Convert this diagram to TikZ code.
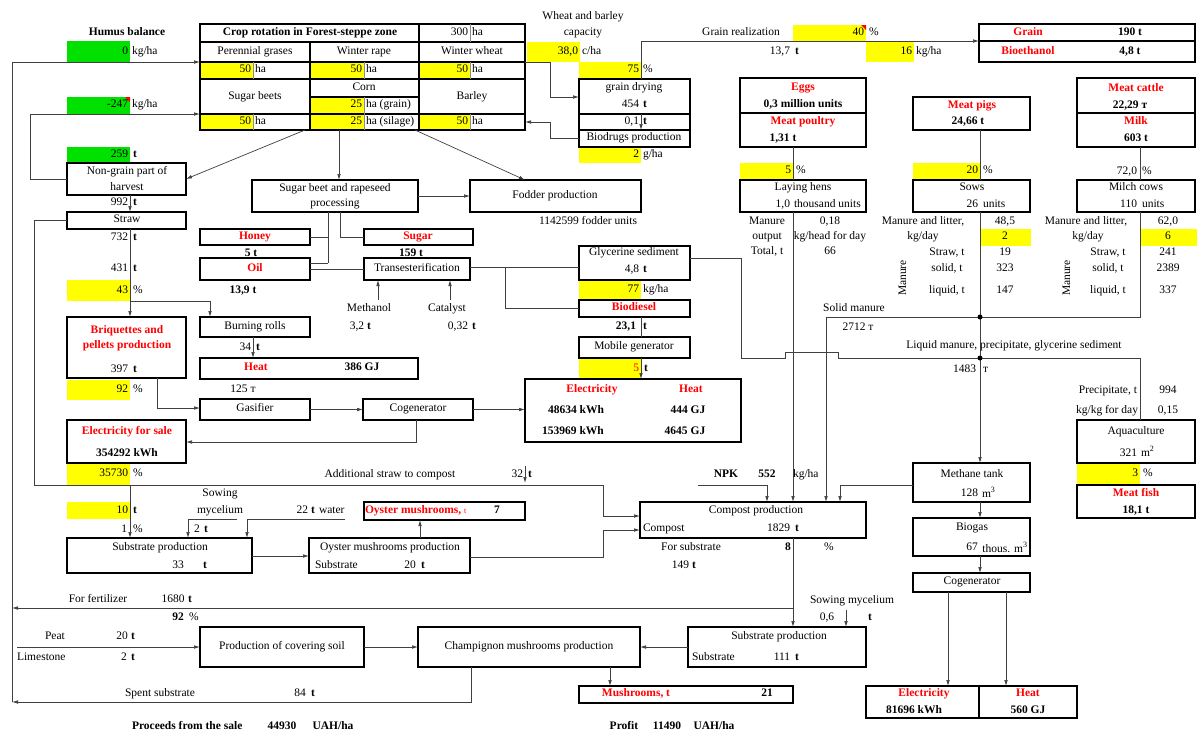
\documentclass[tikz,border=0pt]{standalone}
\usepackage{fontspec}
\setmainfont{Liberation Serif}
\usetikzlibrary{arrows.meta}
\definecolor{yel}{RGB}{255,255,0}
\definecolor{grn}{RGB}{0,225,0}
\newcommand\fs{\fontsize{11.5}{13}\selectfont}
\newcommand\Bx[6][]{\node[bxs,#1,minimum width={#5-#3},minimum height={#6-#4}] (#2) at ({(#3+#5)/2},{(#4+#6)/2}) {};}
\newcommand\Tx[5][]{\node[lb,#1] (#2) at (#3,#4) {#5};}
\begin{document}
\begin{tikzpicture}[x=1pt,y=-1pt,
 bxs/.style={draw=black,line width=1.3pt,inner sep=0,outer sep=0,rectangle},
 yc/.style={draw=none,fill=yel},
 gc/.style={draw=none,fill=grn},
 lb/.style={inner sep=0,outer sep=0,font=\fs,text height=7pt,text depth=3pt},
 bl/.style={font=\fs\bfseries},
 rd/.style={font=\fs\bfseries,text=red},
 cn/.style={draw=black!75,line width=0.7pt},
 ar/.style={cn,-{Latex[length=6pt,width=3.6pt]}},
 thn/.style={draw=black!45,line width=0.5pt},
 grd/.style={draw=black,line width=1.3pt},
 dotst/.style={circle,fill=black,inner sep=0,minimum size=5pt}
]
\useasboundingbox (0,0) rectangle (1197,734);
\fill[white] (0,0) rectangle (1197,734);
% ---------- fills
\Bx[gc]{g1}{67}{41}{130}{62}
\Bx[gc]{g2}{67}{97}{130}{114}
\Bx[gc]{g3}{67}{147}{130}{163}
\Bx[yc]{y1}{201}{62}{253}{79}
\Bx[yc]{y2}{310}{62}{364}{79}
\Bx[yc]{y3}{419}{62}{470}{79}
\Bx[yc]{y4}{310}{97}{364}{114}
\Bx[yc]{y5}{201}{114}{253}{130}
\Bx[yc]{y6}{310}{114}{364}{130}
\Bx[yc]{y7}{419}{114}{470}{130}
\Bx[yc]{y8}{527}{42}{580}{62}
\Bx[yc]{y9}{579}{62}{641}{79}
\Bx[yc]{y10}{579}{147}{641}{163}
\Bx[yc]{y11}{793}{25}{866}{41}
\Bx[yc]{y12}{866}{41}{914}{62}
\Bx[yc]{y13}{740}{163}{793}{180}
\Bx[yc]{y14}{913}{163}{980}{180}
\Bx[yc]{y15}{980}{229}{1031}{246}
\Bx[yc]{y16}{1140}{229}{1197}{246}
\Bx[yc]{y17}{67}{280}{130}{301}
\Bx[yc]{y18}{67}{380}{130}{400}
\Bx[yc]{y19}{67}{464}{130}{485}
\Bx[yc]{y20}{67}{502}{130}{519}
\Bx[yc]{y21}{579}{280}{641}{300}
\Bx[yc]{y22}{579}{358}{641}{379}
\Bx[yc]{y23}{1077}{464}{1140}{484}
\fill[red] (125,97) -- (130,97) -- (130,102) -- cycle;
\fill[red] (861,25) -- (866,25) -- (866,30) -- cycle;
% ---------- table
\Bx{tab}{200}{24}{525}{130}
\draw[grd] (200,42)--(525,42) (200,62)--(525,62) (200,79)--(525,79) (200,114)--(525,114) (310,97)--(419,97) (310,42)--(310,130) (419,24)--(419,130);
\draw[thn] (470,24)--(470,42) (253,62)--(253,79) (364,62)--(364,79) (470,62)--(470,79) (364,97)--(364,114) (253,114)--(253,130) (364,114)--(364,130) (470,114)--(470,130);
\Tx[bl]{t1}{310}{33}{Crop rotation in Forest-steppe zone}
\Tx[anchor=east]{t2}{468}{33}{300}
\Tx[anchor=west]{t3}{472}{33}{ha}
\Tx{t4}{255}{52}{Perennial grases}
\Tx{t5}{364}{52}{Winter rape}
\Tx{t6}{472}{52}{Winter wheat}
\Tx[anchor=east]{t7}{251}{70}{50}
\Tx[anchor=west]{t8}{255}{70}{ha}
\Tx[anchor=east]{t9}{362}{70}{50}
\Tx[anchor=west]{t10}{366}{70}{ha}
\Tx[anchor=east]{t11}{468}{70}{50}
\Tx[anchor=west]{t12}{472}{70}{ha}
\Tx{t13}{255}{97}{Sugar beets}
\Tx{t14}{364}{88}{Corn}
\Tx[anchor=east]{t15}{362}{105}{25}
\Tx[anchor=west]{t16}{366}{105}{ha (grain)}
\Tx{t17}{472}{97}{Barley}
\Tx[anchor=east]{t18}{251}{122}{50}
\Tx[anchor=west]{t19}{255}{122}{ha}
\Tx[anchor=east]{t20}{362}{122}{25}
\Tx[anchor=west]{t21}{366}{122}{ha (silage)}
\Tx[anchor=east]{t22}{468}{122}{50}
\Tx[anchor=west]{t23}{472}{122}{ha}
% ---------- boxes
\Bx{gd}{579}{79}{690}{114}
\Bx{gd2}{579}{114}{690}{130}
\Bx{bio}{579}{130}{690}{147}
\Bx{gr1}{979}{24}{1195}{41}
\Bx{gr2}{979}{41}{1195}{62}
\Bx{eg}{740}{78}{866}{113}
\Bx{pp}{740}{113}{866}{147}
\Bx{lh}{740}{180}{866}{212}
\Bx{mp}{913}{97}{1030}{130}
\Bx{sows}{913}{180}{1030}{212}
\Bx{cat}{1077}{78}{1195}{113}
\Bx{milk}{1077}{113}{1195}{147}
\Bx{cows}{1077}{180}{1195}{212}
\Bx{aq}{1077}{420}{1195}{463}
\Bx{fish}{1077}{485}{1195}{518}
\Bx{mt}{913}{463}{1030}{502}
\Bx{bg}{913}{518}{1030}{556}
\Bx{cg2}{913}{573}{1030}{592}
\Bx{el2}{866}{686}{979}{718}
\Bx{ht2}{979}{686}{1077}{718}
\Bx{cp}{640}{502}{866}{538}
\Bx{sp2}{688}{627}{866}{667}
\Bx{ch}{418}{627}{640}{667}
\Bx{mush}{579}{686}{793}{703}
\Bx{pcs}{200}{627}{364}{667}
\Bx{sp}{67}{538}{252}{573}
\Bx{oy}{309}{538}{470}{573}
\Bx{om}{364}{502}{525}{520}
\Bx{efs}{67}{420}{186}{463}
\Bx{gas}{200}{399}{310}{420}
\Bx{cog}{363}{399}{473}{420}
\Bx{eh}{525}{379}{741}{442}
\Bx{heat}{200}{358}{418}{379}
\Bx{br}{200}{317}{310}{337}
\Bx{brq}{67}{317}{186}{378}
\Bx{oil}{200}{258}{310}{280}
\Bx{honey}{200}{229}{310}{245}
\Bx{sugar}{364}{229}{473}{245}
\Bx{tr}{364}{258}{470}{280}
\Bx{gly}{579}{246}{690}{280}
\Bx{bd}{579}{300}{690}{317}
\Bx{mg}{579}{337}{690}{358}
\Bx{proc}{252}{180}{418}{212}
\Bx{fod}{470}{180}{641}{212}
\Bx{ng}{67}{163}{186}{195}
\Bx{straw}{67}{212}{186}{229}
% ---------- connectors
\coordinate (L0) at (12,702);
\draw[ar] (L0) -- (12,62) -- (tab.west |- 0,62);
\draw[ar] (ng.west) -- (30,0 |- ng.west) -- (30,114) -- (tab.west |- 0,114);
\draw[ar] (305,0 |- tab.south) -- (ng.east);
\draw[ar] (339,0 |- tab.south) -- (339,0 |- proc.north);
\draw[ar] (415,0 |- tab.south) -- (525,0 |- fod.north);
\draw[ar] (tab.east |- 0,62) -- (550,62) -- (550,97) -- (gd.west |- 0,97);
\draw[ar] (bio.west) -- (550,0 |- bio.west) -- (550,122) -- (tab.east |- 0,122);
\draw[ar] (641,0 |- gd.north) -- (641,41) -- (gr1.south west);
\draw[ar] (641,0 |- gd.south) -- (641,0 |- gd2.south);
\draw[ar] (130,0 |- ng.south) -- (130,0 |- straw.north);
\draw[ar] (130,0 |- straw.south) -- (130,0 |- brq.north);
\draw[ar] (130,0 |- y17.south) -- (210,0 |- y17.south) -- (210,0 |- br.north);
\draw[ar] (157,0 |- brq.south) -- (157,408) -- (gas.west |- 0,408);
\draw[ar] (253,0 |- br.south) -- (253,0 |- heat.north);
\draw[ar] (gas.east) -- (cog.west);
\draw[ar] (cog.east) -- (eh.west |- cog.east);
\draw[ar] (416,0 |- cog.south) -- (416,442) -- (efs.east |- 0,442);
\draw[ar] (straw.west) -- (34,0 |- straw.west) -- (34,485) -- (603,485) -- (603,516) -- (cp.west |- 0,516);
\draw[ar] (130,485) -- (130,0 |- sp.north);
\draw[ar] (237,519) -- (188,519) -- (188,0 |- sp.north);
\draw[ar] (345,519) -- (247,519) -- (247,0 |- sp.north);
\draw[ar] (sp.east |- 0,556) -- (oy.west |- 0,556);
\draw[ar] (420,0 |- oy.north) -- (420,0 |- om.south);
\draw[ar] (oy.east |- 0,557) -- (603,557) -- (603,530) -- (cp.west |- 0,530);
\draw[ar] (525,466) -- (525,483);
\draw[ar] (698,485) -- (767,485) -- (767,0 |- cp.north);
\draw[cn] (793,0 |- pp.south) -- (793,0 |- lh.north);
\draw[ar] (793,0 |- lh.south) -- (793,0 |- cp.north);
\draw[cn] (1140,0 |- cows.south) -- (1140,317) -- (826,317);
\draw[ar] (826,317) -- (826,0 |- cp.north);
\draw[ar] (mt.west |- 0,485) -- (840,485) -- (840,0 |- cp.north);
\draw[cn] (980,0 |- mp.south) -- (980,0 |- sows.north);
\draw[ar] (980,0 |- sows.south) -- (980,0 |- mt.north);
\draw[cn] (1140,0 |- milk.south) -- (1140,0 |- cows.north);
\draw[cn] (gly.east |- 0,258) -- (741,258) -- (741,358) -- (785,358) -- (785,352) -- (838,352) -- (838,358) -- (1140,358) -- (1140,0 |- aq.north);
\node[dotst] (dt1) at (980,317) {};
\node[dotst] (dt2) at (980,358) {};
\draw[ar] (980,0 |- mt.south) -- (980,0 |- bg.north);
\draw[ar] (980,0 |- bg.south) -- (980,0 |- cg2.north);
\draw[ar] (948,0 |- cg2.south) -- (948,0 |- el2.north);
\draw[ar] (1006,0 |- cg2.south) -- (1006,0 |- ht2.north);
\draw[ar] (793,0 |- cp.south) -- (793,0 |- sp2.north);
\draw[ar] (793,608) -- (12,608);
\draw[ar] (846,610) -- (846,0 |- sp2.north);
\draw[ar] (sp2.west) -- (ch.east);
\draw[ar] (pcs.east) -- (ch.west);
\draw[ar] (17,647) -- (pcs.west);
\draw[ar] (610,0 |- ch.south) -- (610,0 |- mush.north);
\draw[ar] (471,0 |- ch.south) -- (471,702) -- (L0);
\draw[ar] (proc.east) -- (fod.west);
\draw[cn] (328,0 |- proc.south) -- (328,263);
\draw[cn] (honey.east) -- (328,0 |- honey.east);
\draw[cn] (oil.east |- 0,263) -- (328,263);
\draw[cn] (oil.east) -- (tr.west);
\draw[cn] (340,0 |- proc.south) -- (340,0 |- sugar.west) -- (sugar.west);
\draw[ar] (378,300) -- (378,0 |- tr.south);
\draw[ar] (450,300) -- (450,0 |- tr.south);
\draw[cn] (tr.east |- 0,267) -- (gly.west |- 0,267);
\draw[cn] (505,267) -- (505,308) -- (bd.west |- 0,308);
\draw[cn] (641,0 |- bd.south) -- (641,0 |- mg.north);
\draw[ar] (641,0 |- mg.south) -- (641,0 |- eh.north);
% ---------- left texts
\Tx[bl]{a1}{127}{33}{Humus balance}
\Tx[anchor=east]{a2}{128}{52}{0}
\Tx[anchor=west]{a3}{132}{52}{kg/ha}
\Tx[anchor=east]{a4}{128}{105}{-247}
\Tx[anchor=west]{a5}{132}{105}{kg/ha}
\Tx[anchor=east]{a6}{128}{155}{259}
\Tx[bl,anchor=west]{a7}{133}{155}{t}
\Tx{a8}{127}{172}{Non-grain part of}
\Tx{a9}{127}{188}{harvest}
\Tx[anchor=east]{a10}{128}{203}{992}
\Tx[bl,anchor=west]{a11}{133}{203}{t}
\Tx{a12}{127}{220}{Straw}
\Tx[anchor=east]{a13}{128}{238}{732}
\Tx[bl,anchor=west]{a14}{133}{238}{t}
\Tx[anchor=east]{a15}{128}{269}{431}
\Tx[bl,anchor=west]{a16}{133}{269}{t}
\Tx[anchor=east]{a17}{128}{291}{43}
\Tx[anchor=west]{a18}{133}{291}{\%}
\Tx[rd]{a19}{127}{331}{Briquettes and}
\Tx[rd]{a20}{127}{346}{pellets production}
\Tx[anchor=east]{a21}{128}{370}{397}
\Tx[bl,anchor=west]{a22}{133}{370}{t}
\Tx[anchor=east]{a23}{128}{390}{92}
\Tx[anchor=west]{a24}{133}{390}{\%}
\Tx[rd]{a25}{127}{432}{Electricity for sale}
\Tx[bl]{a26}{127}{454}{354292 kWh}
\Tx[anchor=east]{a27}{128}{474}{35730}
\Tx[anchor=west]{a28}{133}{474}{\%}
\Tx[anchor=east]{a29}{128}{511}{10}
\Tx[bl,anchor=west]{a30}{133}{511}{t}
\Tx[anchor=east]{a31}{127}{530}{1}
\Tx[anchor=west]{a32}{133}{530}{\%}
\Tx{a33}{220}{494}{Sowing}
\Tx{a34}{220}{511}{mycelium}
\Tx{a35}{197}{530}{2}
\Tx[bl]{a36}{206}{530}{t}
\Tx[anchor=east]{a37}{308}{511}{22}
\Tx[bl]{a38}{313}{511}{t}
\Tx[anchor=west]{a39}{319}{511}{water}
\Tx{a40}{160}{548}{Substrate production}
\Tx{a41}{178}{566}{33}
\Tx[bl]{a42}{205}{566}{t}
\Tx{a43}{98}{600}{For fertilizer}
\Tx{a44}{173}{600}{1680}
\Tx[bl]{a45}{190}{600}{t}
\Tx[bl]{a46}{178}{618}{92}
\Tx{a47}{194}{618}{\%}
\Tx{a48}{55}{637}{Peat}
\Tx{a49}{122}{637}{20}
\Tx[bl]{a50}{133}{637}{t}
\Tx[anchor=west]{a51}{17}{658}{Limestone}
\Tx{a52}{124}{658}{2}
\Tx[bl]{a53}{133}{658}{t}
\Tx{a54}{282}{647}{Production of covering soil}
\Tx{a55}{160}{694}{Spent substrate}
\Tx{a56}{300}{694}{84}
\Tx[bl]{a57}{313}{694}{t}
\Tx[bl,anchor=west]{a58}{132}{727}{Proceeds from the sale}
\Tx[bl]{a59}{282}{727}{44930}
\Tx[bl]{a60}{333}{727}{UAH/ha}
\Tx[bl]{a61}{624}{727}{Profit}
\Tx[bl]{a62}{667}{727}{11490}
\Tx[bl]{a63}{714}{727}{UAH/ha}
% ---------- middle-left texts
\Tx{b1}{335}{189}{Sugar beet and rapeseed}
\Tx{b2}{335}{204}{processing}
\Tx{b3}{555}{196}{Fodder production}
\Tx{b4}{588}{222}{1142599 fodder units}
\Tx[rd]{b5}{255}{237}{Honey}
\Tx[bl]{b6}{251}{254}{5 t}
\Tx[rd]{b7}{418}{237}{Sugar}
\Tx[bl]{b8}{411}{254}{159 t}
\Tx[rd]{b9}{255}{269}{Oil}
\Tx[bl]{b10}{243}{291}{13,9 t}
\Tx{b11}{417}{269}{Transesterification}
\Tx{b12}{369}{309}{Methanol}
\Tx{b13}{357}{327}{3,2}
\Tx[bl]{b14}{369}{327}{t}
\Tx{b15}{447}{309}{Catalyst}
\Tx{b16}{458}{327}{0,32}
\Tx[bl]{b17}{474}{327}{t}
\Tx{b18}{255}{327}{Burning rolls}
\Tx[anchor=east]{b19}{251}{348}{34}
\Tx[bl,anchor=west]{b20}{256}{348}{t}
\Tx[rd]{b21}{256}{368}{Heat}
\Tx[bl]{b22}{362}{368}{386 GJ}
\Tx{b23}{243}{390}{125 т}
\Tx{b24}{255}{409}{Gasifier}
\Tx{b25}{418}{409}{Cogenerator}
\Tx{b26}{390}{475}{Additional straw to compost}
\Tx[anchor=east]{b27}{523}{475}{32}
\Tx[bl,anchor=west]{b28}{528}{475}{t}
\Tx[rd,anchor=west]{b29}{365}{511}{Oyster mushrooms, {\mdseries\fontsize{8}{9}\selectfont t}}
\Tx[bl]{b30}{497}{511}{7}
\Tx{b31}{390}{548}{Oyster mushrooms production}
\Tx[anchor=west]{b32}{315}{566}{Substrate}
\Tx{b33}{410}{566}{20}
\Tx[bl]{b34}{423}{566}{t}
\Tx{b35}{529}{647}{Champignon mushrooms production}
\Tx[rd]{b36}{636}{694}{Mushrooms, t}
\Tx[bl]{b37}{767}{694}{21}
% ---------- top-middle texts
\Tx{c1}{583}{17}{Wheat and barley}
\Tx{c2}{583}{33}{capacity}
\Tx[anchor=east]{c3}{578}{52}{38,0}
\Tx[anchor=west]{c4}{582}{52}{c/ha}
\Tx[anchor=east]{c5}{639}{70}{75}
\Tx[anchor=west]{c6}{643}{70}{\%}
\Tx{c7}{634}{88}{grain drying}
\Tx[anchor=east]{c8}{639}{105}{454}
\Tx[bl,anchor=west]{c9}{643}{105}{t}
\Tx[anchor=east]{c10}{639}{122}{0,1}
\Tx[bl,anchor=west]{c11}{643}{122}{t}
\Tx{c12}{634}{138}{Biodrugs production}
\Tx[anchor=east]{c13}{639}{155}{2}
\Tx[anchor=west]{c14}{643}{155}{g/ha}
\Tx{c15}{741}{33}{Grain realization}
\Tx[anchor=east]{c16}{864}{33}{40}
\Tx[anchor=west]{c17}{869}{33}{\%}
\Tx[anchor=east]{c18}{790}{52}{13,7}
\Tx[bl,anchor=west]{c19}{795}{52}{t}
\Tx[anchor=east]{c20}{912}{52}{16}
\Tx[anchor=west]{c21}{916}{52}{kg/ha}
\Tx[rd]{c22}{1028}{33}{Grain}
\Tx[bl]{c23}{1130}{33}{190 t}
\Tx[rd]{c24}{1028}{52}{Bioethanol}
\Tx[bl]{c25}{1130}{52}{4,8 t}
\Tx{c26}{634}{253}{Glycerine sediment}
\Tx{c27}{632}{270}{4,8}
\Tx[bl]{c28}{645}{270}{t}
\Tx[anchor=east]{c29}{639}{290}{77}
\Tx[anchor=west]{c30}{643}{290}{kg/ha}
\Tx[rd]{c31}{634}{308}{Biodiesel}
\Tx[bl]{c32}{626}{327}{23,1}
\Tx[bl]{c33}{645}{327}{t}
\Tx{c34}{634}{347}{Mobile generator}
\Tx[anchor=east,text=red]{c35}{639}{369}{5}
\Tx[bl,anchor=west]{c36}{644}{369}{t}
\Tx[rd]{c37}{592}{390}{Electricity}
\Tx[rd]{c38}{691}{390}{Heat}
\Tx[bl]{c39}{576}{411}{48634 kWh}
\Tx[bl]{c40}{688}{411}{444 GJ}
\Tx[bl]{c41}{573}{432}{153969 kWh}
\Tx[bl]{c42}{685}{432}{4645 GJ}
% ---------- livestock texts
\Tx[rd]{d1}{803}{88}{Eggs}
\Tx[bl]{d2}{803}{105}{0,3 million units}
\Tx[rd]{d3}{803}{122}{Meat poultry}
\Tx[bl]{d4}{783}{139}{1,31 t}
\Tx[anchor=east]{d5}{791}{171}{5}
\Tx[anchor=west]{d6}{796}{171}{\%}
\Tx{d7}{803}{188}{Laying hens}
\Tx[anchor=east]{d8}{790}{205}{1,0}
\Tx[anchor=west]{d9}{794}{205}{thousand units}
\Tx{d10}{767}{222}{Manure}
\Tx{d11}{767}{237}{output}
\Tx{d12}{767}{252}{Total, t}
\Tx{d13}{830}{222}{0,18}
\Tx{d14}{830}{237}{kg/head for day}
\Tx{d15}{830}{252}{66}
\Tx[rd]{d16}{972}{106}{Meat pigs}
\Tx[bl]{d17}{968}{122}{24,66 t}
\Tx[anchor=east]{d18}{978}{171}{20}
\Tx[anchor=west]{d19}{983}{171}{\%}
\Tx{d20}{972}{188}{Sows}
\Tx[anchor=east]{d21}{978}{205}{26}
\Tx[anchor=west]{d22}{983}{205}{units}
\Tx{d23}{923}{222}{Manure and litter,}
\Tx{d24}{923}{237}{kg/day}
\Tx{d25}{1005}{222}{48,5}
\Tx{d26}{1005}{237}{2}
\Tx{d27}{947}{253}{Straw, t}
\Tx{d28}{1005}{253}{19}
\Tx{d29}{947}{269}{solid, t}
\Tx{d30}{1005}{269}{323}
\Tx{d31}{947}{291}{liquid, t}
\Tx{d32}{1005}{291}{147}
\Tx[rotate=90]{d33}{904}{278}{Manure}
\Tx[rd]{d34}{1136}{89}{Meat cattle}
\Tx[bl]{d35}{1130}{106}{22,29 т}
\Tx[rd]{d36}{1136}{122}{Milk}
\Tx[bl]{d37}{1136}{139}{603 t}
\Tx[anchor=east]{d38}{1137}{172}{72,0}
\Tx[anchor=west]{d39}{1142}{172}{\%}
\Tx{d40}{1136}{188}{Milch cows}
\Tx[anchor=east]{d41}{1137}{205}{110}
\Tx[anchor=west]{d42}{1142}{205}{units}
\Tx{d43}{1086}{222}{Manure and litter,}
\Tx{d44}{1088}{237}{kg/day}
\Tx{d45}{1168}{222}{62,0}
\Tx{d46}{1168}{237}{6}
\Tx{d47}{1108}{253}{Straw, t}
\Tx{d48}{1168}{253}{241}
\Tx{d49}{1108}{269}{solid, t}
\Tx{d50}{1168}{269}{2389}
\Tx{d51}{1108}{291}{liquid, t}
\Tx{d52}{1168}{291}{337}
\Tx[rotate=90]{d53}{1068}{278}{Manure}
% ---------- lower-right texts
\Tx{e1}{854}{309}{Solid manure}
\Tx{e2}{858}{328}{2712 т}
\Tx{e3}{1014}{346}{Liquid manure, precipitate, glycerine sediment}
\Tx[anchor=east]{e4}{976}{370}{1483}
\Tx[anchor=west]{e5}{983}{370}{т}
\Tx[anchor=east]{e6}{1137}{391}{Precipitate, t}
\Tx{e7}{1168}{391}{994}
\Tx[anchor=east]{e8}{1138}{411}{kg/kg for day}
\Tx{e9}{1168}{411}{0,15}
\Tx{e10}{1136}{432}{Aquaculture}
\Tx[anchor=east]{e11}{1137}{454}{321}
\Tx[anchor=west]{e12}{1141}{454}{m\textsuperscript{2}}
\Tx[anchor=east]{e13}{1138}{474}{3}
\Tx[anchor=west]{e14}{1143}{474}{\%}
\Tx[rd]{e15}{1136}{494}{Meat fish}
\Tx[bl]{e16}{1136}{511}{18,1 t}
\Tx{e17}{972}{475}{Methane tank}
\Tx[anchor=east]{e18}{978}{494}{128}
\Tx[anchor=west]{e19}{982}{495}{m\textsuperscript{3}}
\Tx{e20}{972}{528}{Biogas}
\Tx{e21}{972}{548}{67}
\Tx{e22}{1005}{550}{thous. m\textsuperscript{3}}
\Tx{e23}{972}{582}{Cogenerator}
\Tx[rd]{e24}{924}{694}{Electricity}
\Tx[bl]{e25}{914}{711}{81696 kWh}
\Tx[rd]{e26}{1028}{694}{Heat}
\Tx[bl]{e27}{1028}{711}{560 GJ}
\Tx[bl]{e28}{726}{475}{NPK}
\Tx[bl]{e29}{767}{475}{552}
\Tx[anchor=west]{e30}{793}{475}{kg/ha}
\Tx{e31}{756}{511}{Compost production}
\Tx[anchor=west]{e32}{643}{529}{Compost}
\Tx[anchor=east]{e33}{790}{529}{1829}
\Tx[bl,anchor=west]{e34}{795}{529}{t}
\Tx{e35}{691}{548}{For substrate}
\Tx[bl]{e36}{788}{548}{8}
\Tx{e37}{829}{548}{\%}
\Tx[anchor=east]{e38}{689}{566}{149}
\Tx[bl,anchor=west]{e39}{692}{566}{t}
\Tx{e40}{852}{601}{Sowing mycelium}
\Tx{e41}{827}{618}{0,6}
\Tx[bl]{e42}{870}{618}{t}
\Tx{e43}{779}{637}{Substrate production}
\Tx[anchor=west]{e44}{692}{658}{Substrate}
\Tx{e45}{782}{658}{111}
\Tx[bl]{e46}{797}{658}{t}
\end{tikzpicture}
\end{document}
